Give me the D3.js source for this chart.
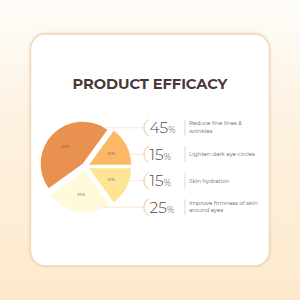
<!DOCTYPE html>
<html>
<head>
<meta charset="utf-8">
<script src="https://cdn.jsdelivr.net/npm/d3@7"></script>
<style>
  body { margin: 0; background: #fff; }
  svg { display: block; }
</style>
</head>
<body>
<svg id="chart" width="300" height="300"></svg>
<script>
// chart data
const title = 'PRODUCT EFFICACY';
const percents = [45, 15, 15, 25];
const descriptions = [
  ['Reduce fine lines &', 'wrinkles'],
  ['Lighten dark eye circles'],
  ['Skin hydration'],
  ['Improve firmness of skin', 'around eyes'],
];
const sliceColors = ['#e9914f', '#fcb767', '#fee595', '#fffad9'];

const svg = d3.select('#chart');

// background gradient
const defs = svg.append('defs');
const grad = defs.append('linearGradient')
  .attr('id', 'bg')
  .attr('x1', 0).attr('y1', 0).attr('x2', 0).attr('y2', 1);
grad.append('stop').attr('offset', '0%').attr('stop-color', '#fefcf9');
grad.append('stop').attr('offset', '45%').attr('stop-color', '#fdf1de');
grad.append('stop').attr('offset', '100%').attr('stop-color', '#fdeacd');

const shadow = defs.append('filter').attr('id', 'shadow')
  .attr('x', '-10%').attr('y', '-10%').attr('width', '120%').attr('height', '120%');
shadow.append('feDropShadow')
  .attr('dx', 0).attr('dy', 0).attr('stdDeviation', 1.5)
  .attr('flood-color', '#d9b48a').attr('flood-opacity', 0.45);

svg.append('rect')
  .attr('width', 300).attr('height', 300)
  .attr('fill', 'url(#bg)');

// card
svg.append('rect')
  .attr('x', 30.5).attr('y', 34)
  .attr('width', 239).attr('height', 232)
  .attr('rx', 15)
  .attr('fill', '#fff')
  .attr('stroke', '#efd8bb')
  .attr('stroke-width', 1.4)
  .attr('filter', 'url(#shadow)');

svg.append('text')
  .attr('x', 150).attr('y', 88.5)
  .attr('text-anchor', 'middle')
  .attr('font-family', 'Montserrat, "Open Sans", sans-serif')
  .attr('font-weight', 700)
  .attr('font-size', 14.6)
  .attr('letter-spacing', -0.05)
  .attr('fill', '#4a3838')
  .text(title);

// pie
const cx = 85.5, cy = 166.5, radius = 42, explode = 4;
const color = d3.scaleOrdinal().domain(d3.range(percents.length)).range(sliceColors);

const pie = d3.pie()
  .sort(null)
  .value(d => d)
  .startAngle(-0.7 * Math.PI)
  .endAngle(1.3 * Math.PI);

const arcs = pie(percents);
const arc = d3.arc().innerRadius(0).outerRadius(radius);
const labelArc = d3.arc().innerRadius(radius * 0.58).outerRadius(radius * 0.58);

function offsetOf(d) {
  const a = (d.startAngle + d.endAngle) / 2;
  return [explode * Math.sin(a), -explode * Math.cos(a)];
}

const pieG = svg.append('g').attr('transform', `translate(${cx},${cy})`);

// rows for the legend
const rowY = d3.scalePoint()
  .domain(d3.range(percents.length))
  .range([127.8, 207.2]);

// connector lines, from slice edge to bracket
const bracketX = 153.5, bracketR = 9.5;
arcs.forEach((d, i) => {
  const [ox, oy] = offsetOf(d);
  const y = rowY(i);
  let c = (cy + oy - y) / radius;
  c = Math.max(-1, Math.min(1, c));
  let a = Math.acos(c);
  // keep the angle inside the slice
  const lo = d.startAngle, hi = d.endAngle;
  let aa = a;
  if (aa < lo) aa += 2 * Math.PI;
  if (aa > hi) aa = Math.min(Math.max(a, lo), hi);
  const x0 = cx + ox + radius * Math.sin(aa) - 1;
  svg.append('line')
    .attr('x1', x0).attr('x2', bracketX - bracketR)
    .attr('y1', y).attr('y2', y)
    .attr('stroke', '#fbe2cb')
    .attr('stroke-width', 0.9);
});

pieG.selectAll('path')
  .data(arcs)
  .join('path')
  .attr('d', arc)
  .attr('transform', d => `translate(${offsetOf(d)})`)
  .attr('fill', (d, i) => color(i));

pieG.selectAll('text')
  .data(arcs)
  .join('text')
  .attr('transform', d => {
    const [ox, oy] = offsetOf(d);
    const [lx, ly] = labelArc.centroid(d);
    return `translate(${lx + ox},${ly + oy})`;
  })
  .attr('text-anchor', 'middle')
  .attr('dy', '0.35em')
  .attr('font-family', '"Open Sans", sans-serif')
  .attr('font-size', 4.2)
  .attr('fill', '#7a5a45')
  .text(d => d.data + '%');

// legend
const bracketArc = d3.arc()
  .innerRadius(bracketR).outerRadius(bracketR)
  .startAngle(209 * Math.PI / 180)
  .endAngle(331 * Math.PI / 180);

const rows = svg.selectAll('g.row')
  .data(percents)
  .join('g')
  .attr('class', 'row')
  .attr('transform', (d, i) => `translate(0,${rowY(i)})`);

rows.append('path')
  .attr('d', bracketArc)
  .attr('transform', `translate(${bracketX},0)`)
  .attr('fill', 'none')
  .attr('stroke', '#f8d3b0')
  .attr('stroke-width', 1);

const num = rows.append('text')
  .attr('x', 149.5).attr('y', 5.5)
  .attr('font-family', 'Montserrat, "Open Sans", sans-serif')
  .attr('font-weight', 300)
  .attr('fill', '#4f4646');
num.append('tspan').attr('font-size', 15.5).text(d => d);
num.append('tspan').attr('font-size', 8.8).text('%');

rows.append('line')
  .attr('x1', 185).attr('x2', 185)
  .attr('y1', -8).attr('y2', 8)
  .attr('stroke', '#cfc7c4')
  .attr('stroke-width', 0.7);

rows.each(function (d, i) {
  const lines = descriptions[i];
  const t = d3.select(this).append('text')
    .attr('font-family', 'Montserrat, "Open Sans", sans-serif')
    .attr('font-size', 5.6)
    .attr('fill', '#6a5a5a');
  const y0 = lines.length > 1 ? -2.6 : 1.9;
  lines.forEach((s, k) => {
    t.append('tspan')
      .attr('x', 189)
      .attr('y', y0 + k * 7.7)
      .text(s);
  });
});
</script>
</body>
</html>
